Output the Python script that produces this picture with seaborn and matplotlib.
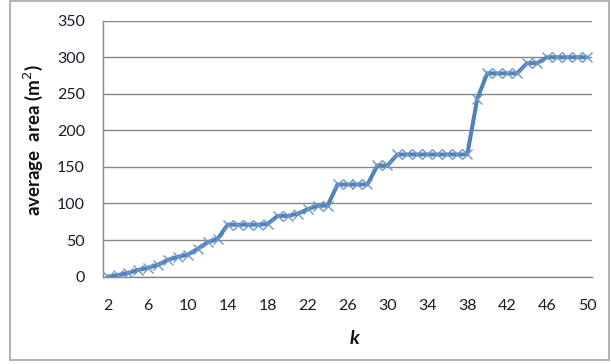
import pandas as pd
import seaborn as sns
import matplotlib.pyplot as plt
from matplotlib.patches import Rectangle
from matplotlib.ticker import FixedLocator

k_values = [2, 3, 4, 5, 6, 7, 8, 9, 10, 11, 12, 13, 14, 15, 16, 17, 18, 19, 20, 21,
            22, 23, 24, 25, 26, 27, 28, 29, 30, 31, 32, 33, 34, 35, 36, 37, 38, 39, 40,
            41, 42, 43, 44, 45, 46, 47, 48, 49, 50]
avg_area = [0, 2, 5, 9, 12, 16, 23, 27, 30, 38, 47, 52, 71, 71, 71, 71, 72, 83, 83, 86,
            92, 97, 97, 126, 126, 126, 126, 152, 152, 167, 167, 167, 167, 167, 167, 167, 167, 243, 278,
            278, 278, 278, 292, 292, 300, 300, 300, 300, 300]
x_labels = [2, 6, 10, 14, 18, 22, 26, 30, 34, 38, 42, 46, 50]
y_ticks = [0, 50, 100, 150, 200, 250, 300, 350]

data = pd.DataFrame({'k': k_values, 'area': avg_area})

sns.set_style('white')
plt.rcParams['font.family'] = ['Lato', 'DejaVu Sans']

fig = plt.figure(figsize=(6.11, 3.64), dpi=100)
ax = fig.add_axes([103 / 611, 1 - 276.6 / 364, 489 / 611, 255.9 / 364])

grid_col = '#868686'
sns.lineplot(data=data, x='k', y='area', ax=ax, color='#4F81BD', linewidth=2.9,
             marker='x', markersize=7, markeredgecolor='#6E95C8', markeredgewidth=1.0,
             zorder=3)

ax.set_xlim(1.5, 50.5)
ax.set_ylim(0, 350)
ax.set_yticks(y_ticks)
ax.yaxis.grid(True, color=grid_col, linewidth=1)
ax.xaxis.grid(False)

ax.set_xticks(x_labels)
ax.xaxis.set_minor_locator(FixedLocator([v - 0.5 for v in k_values] + [50.5]))
ax.tick_params(axis='x', which='major', length=0, pad=16, labelsize=11.5, labelcolor='#1a1a2a')
ax.tick_params(axis='x', which='minor', length=5, width=1, color=grid_col, direction='out')
ax.tick_params(axis='y', which='major', length=6, width=1, color=grid_col, direction='out',
               pad=7, labelsize=11.5, labelcolor='#1a1a2a')

for s in ['top', 'right']:
    ax.spines[s].set_visible(False)
for s in ['left', 'bottom']:
    ax.spines[s].set_color(grid_col)
    ax.spines[s].set_linewidth(1)

ax.set_xlabel('')
ax.set_ylabel('')
fig.text(33 / 611, 1 - 140 / 364, 'average  area (m$^2$)', rotation=90, ha='center', va='center',
         fontsize=13.5, fontweight='bold', color='#111111')
fig.text(355 / 611, 1 - 338 / 364, 'k', ha='center', va='center', fontsize=14,
         fontweight='bold', fontstyle='italic', color='#111111')

fig.patches.append(Rectangle((10 / 611, 1 - 360 / 364), 599 / 611, 359 / 364,
                             transform=fig.transFigure, fill=False,
                             edgecolor='#A6A6A6', linewidth=1.2))

plt.savefig('out.png', dpi=100)
